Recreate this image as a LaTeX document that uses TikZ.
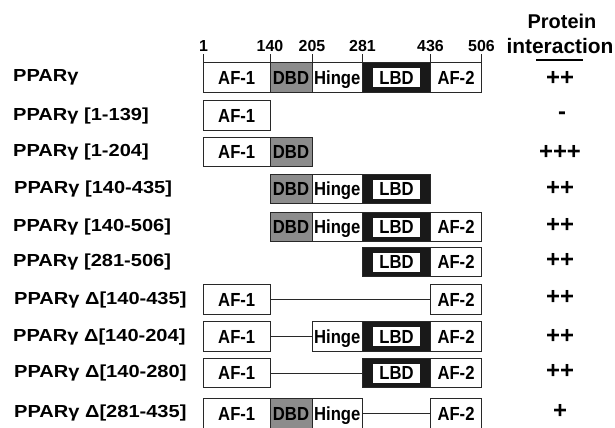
\documentclass[tikz,border=0pt]{standalone}
\usepackage{fontspec}
\setmainfont{Liberation Sans}
\newfontfamily\labfont{Liberation Sans}[FakeStretch=1.15]
\newfontfamily\domfont{Liberation Sans}[FakeStretch=0.88]
\usepackage{tikz}
\usetikzlibrary{positioning}
\definecolor{dbdgray}{RGB}{140,140,140}
\definecolor{linegray}{RGB}{40,40,40}

\begin{document}
\begin{tikzpicture}[x=1bp, y=-1bp]
    \tikzstyle{dom}=[draw=linegray, line width=1bp, inner sep=0pt, outer sep=0pt, minimum height=29.5bp, text height=13.6bp, text depth=0pt, font=\domfont\fontsize{19}{19}\bfseries]
    \tikzstyle{afone}=[dom, minimum width=66.5bp, fill=white]
    \tikzstyle{dbd}=[dom, minimum width=42bp, fill=dbdgray]
    \tikzstyle{hinge}=[dom, minimum width=50.5bp, fill=white]
    \tikzstyle{lbd}=[dom, minimum width=68bp, fill=black!90, label={[fill=white, minimum width=47bp, minimum height=19bp, inner sep=0pt, text height=13.6bp, text depth=0pt, font=\domfont\fontsize{19}{19}\bfseries]center:LBD}]
    \tikzstyle{aftwo}=[dom, minimum width=51bp, fill=white]
    \tikzstyle{lab}=[anchor=west, inner sep=0pt, font=\labfont\fontsize{17.5}{17.5}\bfseries]
    \tikzstyle{score}=[inner sep=0pt, font=\fontsize{24}{24}\bfseries]
    \tikzstyle{gap}=[draw=linegray, line width=1bp]
    \useasboundingbox (0,0) rectangle (615,427);
    % header
    \foreach \p/\x in {1/203.5, 140/270, 205/312, 281/362.5, 436/430.5, 506/481.5} {
      \node[inner sep=0pt, font=\fontsize{16}{16}\bfseries] (t\p) at (\x,46.5) {\p};
      \draw[gap] (\x,54) -- (\x,62.75);
    }
    \node[inner sep=0pt, font=\fontsize{20}{20}\bfseries] (prot) at (562,21.5) {Protein};
    \node[inner sep=0pt, font=\fontsize{21}{21}\bfseries] (inter) at (560,46) {interaction};
    \draw[line width=2bp] (536,60) -- (583,60);
    % full length
    \node[lab] (name-1) at (13,77.5) {PPARγ};
    \node[afone, anchor=west] (af1-1) at (203.5,77.5) {AF-1};
    \node[dbd, right=0pt of af1-1] (dbd-1) {DBD};
    \node[hinge, right=0pt of dbd-1] (hng-1) {Hinge};
    \node[lbd, right=0pt of hng-1] (lbd-1) {};
    \node[aftwo, right=0pt of lbd-1] (af2-1) {AF-2};
    \node[score] (pi-1) at (560,78) {++};
    % 1-139
    \node[lab] (name-2) at (13,115.5) {PPARγ [1-139]};
    \node[afone, anchor=west] (af1-2) at (203.5,115.5) {AF-1};
    \node[score] (pi-2) at (562,116) {-};
    % 1-204
    \node[lab] (name-3) at (13,152) {PPARγ [1-204]};
    \node[afone, anchor=west] (af1-3) at (203.5,152) {AF-1};
    \node[dbd, right=0pt of af1-3] (dbd-3) {DBD};
    \node[score] (pi-3) at (560,152.5) {+++};
    % 140-435
    \node[lab] (name-4) at (14,189) {PPARγ [140-435]};
    \node[dbd, anchor=west] (dbd-4) at (270,189) {DBD};
    \node[hinge, right=0pt of dbd-4] (hng-4) {Hinge};
    \node[lbd, right=0pt of hng-4] (lbd-4) {};
    \node[score] (pi-4) at (560,188) {++};
    % 140-506
    \node[lab] (name-5) at (13,227) {PPARγ [140-506]};
    \node[dbd, anchor=west] (dbd-5) at (270,227) {DBD};
    \node[hinge, right=0pt of dbd-5] (hng-5) {Hinge};
    \node[lbd, right=0pt of hng-5] (lbd-5) {};
    \node[aftwo, right=0pt of lbd-5] (af2-5) {AF-2};
    \node[score] (pi-5) at (560,225) {++};
    % 281-506
    \node[lab] (name-6) at (13,262) {PPARγ [281-506]};
    \node[lbd, anchor=west] (lbd-6) at (362.5,262) {};
    \node[aftwo, right=0pt of lbd-6] (af2-6) {AF-2};
    \node[score] (pi-6) at (560,260) {++};
    % del 140-435
    \node[lab] (name-7) at (14,299.5) {PPARγ Δ[140-435]};
    \node[afone, anchor=west] (af1-7) at (203.5,299.5) {AF-1};
    \node[aftwo, anchor=west] (af2-7) at (430.5,299.5) {AF-2};
    \draw[gap] (af1-7) -- (af2-7);
    \node[score] (pi-7) at (560,297) {++};
    % del 140-204
    \node[lab] (name-8) at (13,336.5) {PPARγ Δ[140-204]};
    \node[afone, anchor=west] (af1-8) at (203.5,336.5) {AF-1};
    \node[hinge, anchor=west] (hng-8) at (312,336.5) {Hinge};
    \node[lbd, right=0pt of hng-8] (lbd-8) {};
    \node[aftwo, right=0pt of lbd-8] (af2-8) {AF-2};
    \draw[gap] (af1-8) -- (hng-8);
    \node[score] (pi-8) at (560,336) {++};
    % del 140-280
    \node[lab] (name-9) at (14,373) {PPARγ Δ[140-280]};
    \node[afone, anchor=west] (af1-9) at (203.5,373) {AF-1};
    \node[lbd, anchor=west] (lbd-9) at (362.5,373) {};
    \node[aftwo, right=0pt of lbd-9] (af2-9) {AF-2};
    \draw[gap] (af1-9) -- (lbd-9);
    \node[score] (pi-9) at (560,371.5) {++};
    % del 281-435
    \node[lab] (name-10) at (14,413) {PPARγ Δ[281-435]};
    \node[afone, anchor=west] (af1-10) at (203.5,413.5) {AF-1};
    \node[dbd, right=0pt of af1-10] (dbd-10) {DBD};
    \node[hinge, right=0pt of dbd-10] (hng-10) {Hinge};
    \node[aftwo, anchor=west] (af2-10) at (430.5,413.5) {AF-2};
    \draw[gap] (hng-10) -- (af2-10);
    \node[score] (pi-10) at (560,411.5) {+};
\end{tikzpicture}
\end{document}
